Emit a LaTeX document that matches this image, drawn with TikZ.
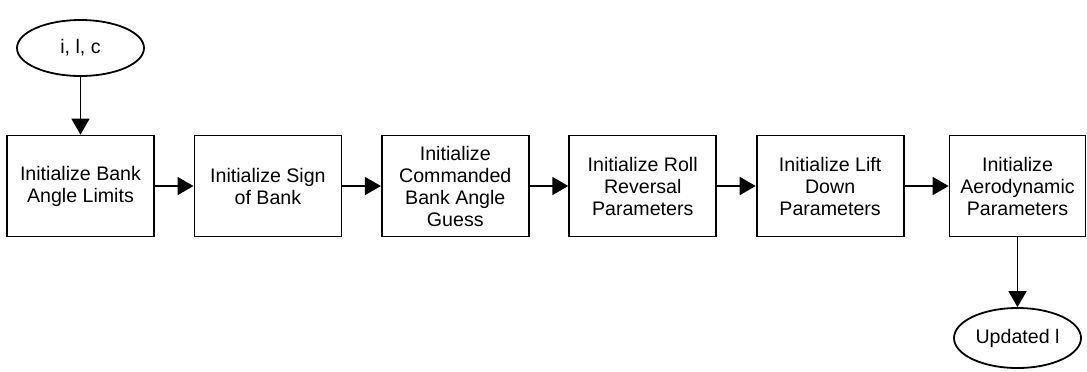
\documentclass[tikz,border=0pt]{standalone}
\usepackage{fontspec}
\setmainfont{Liberation Sans}
\usetikzlibrary{arrows.meta, positioning, shapes.geometric}

\begin{document}
\begin{tikzpicture}[
node distance=93.7pt,
every node/.style={draw, line width=0.9pt, align=center, font=\fontsize{9.8}{11}\selectfont},
block/.style={rectangle, minimum width=73.5pt, minimum height=50.5pt, inner sep=2pt},
terminal/.style={ellipse, minimum width=63.5pt, minimum height=28pt, inner sep=1pt},
arrow/.style={-{Triangle[length=8pt,width=9pt]}, line width=0.9pt}
]
\useasboundingbox (0,0) rectangle (543.5pt,-185.5pt);

\node[terminal] (input) at (40.25pt,-24pt) {i, l, c};
\node[block] (limits) [below of=input, node distance=69pt] {Initialize Bank\\Angle Limits};
\node[block] (sign) [right of=limits] {Initialize Sign\\of Bank};
\node[block] (guess) [right of=sign] {Initialize\\Commanded\\Bank Angle\\Guess};
\node[block] (roll) [right of=guess] {Initialize Roll\\Reversal\\Parameters};
\node[block] (lift) [right of=roll] {Initialize Lift\\Down\\Parameters};
\node[block, minimum width=68pt] (aero) [right of=lift] {Initialize\\Aerodynamic\\Parameters};
\node[terminal, minimum height=30pt] (output) [below of=aero, node distance=76pt] {Updated l};

\draw[arrow] (input) -- (limits);
\draw[arrow] (limits) -- (sign);
\draw[arrow] (sign) -- (guess);
\draw[arrow] (guess) -- (roll);
\draw[arrow] (roll) -- (lift);
\draw[arrow] (lift) -- (aero);
\draw[arrow] (aero) -- (output);

\end{tikzpicture}
\end{document}
